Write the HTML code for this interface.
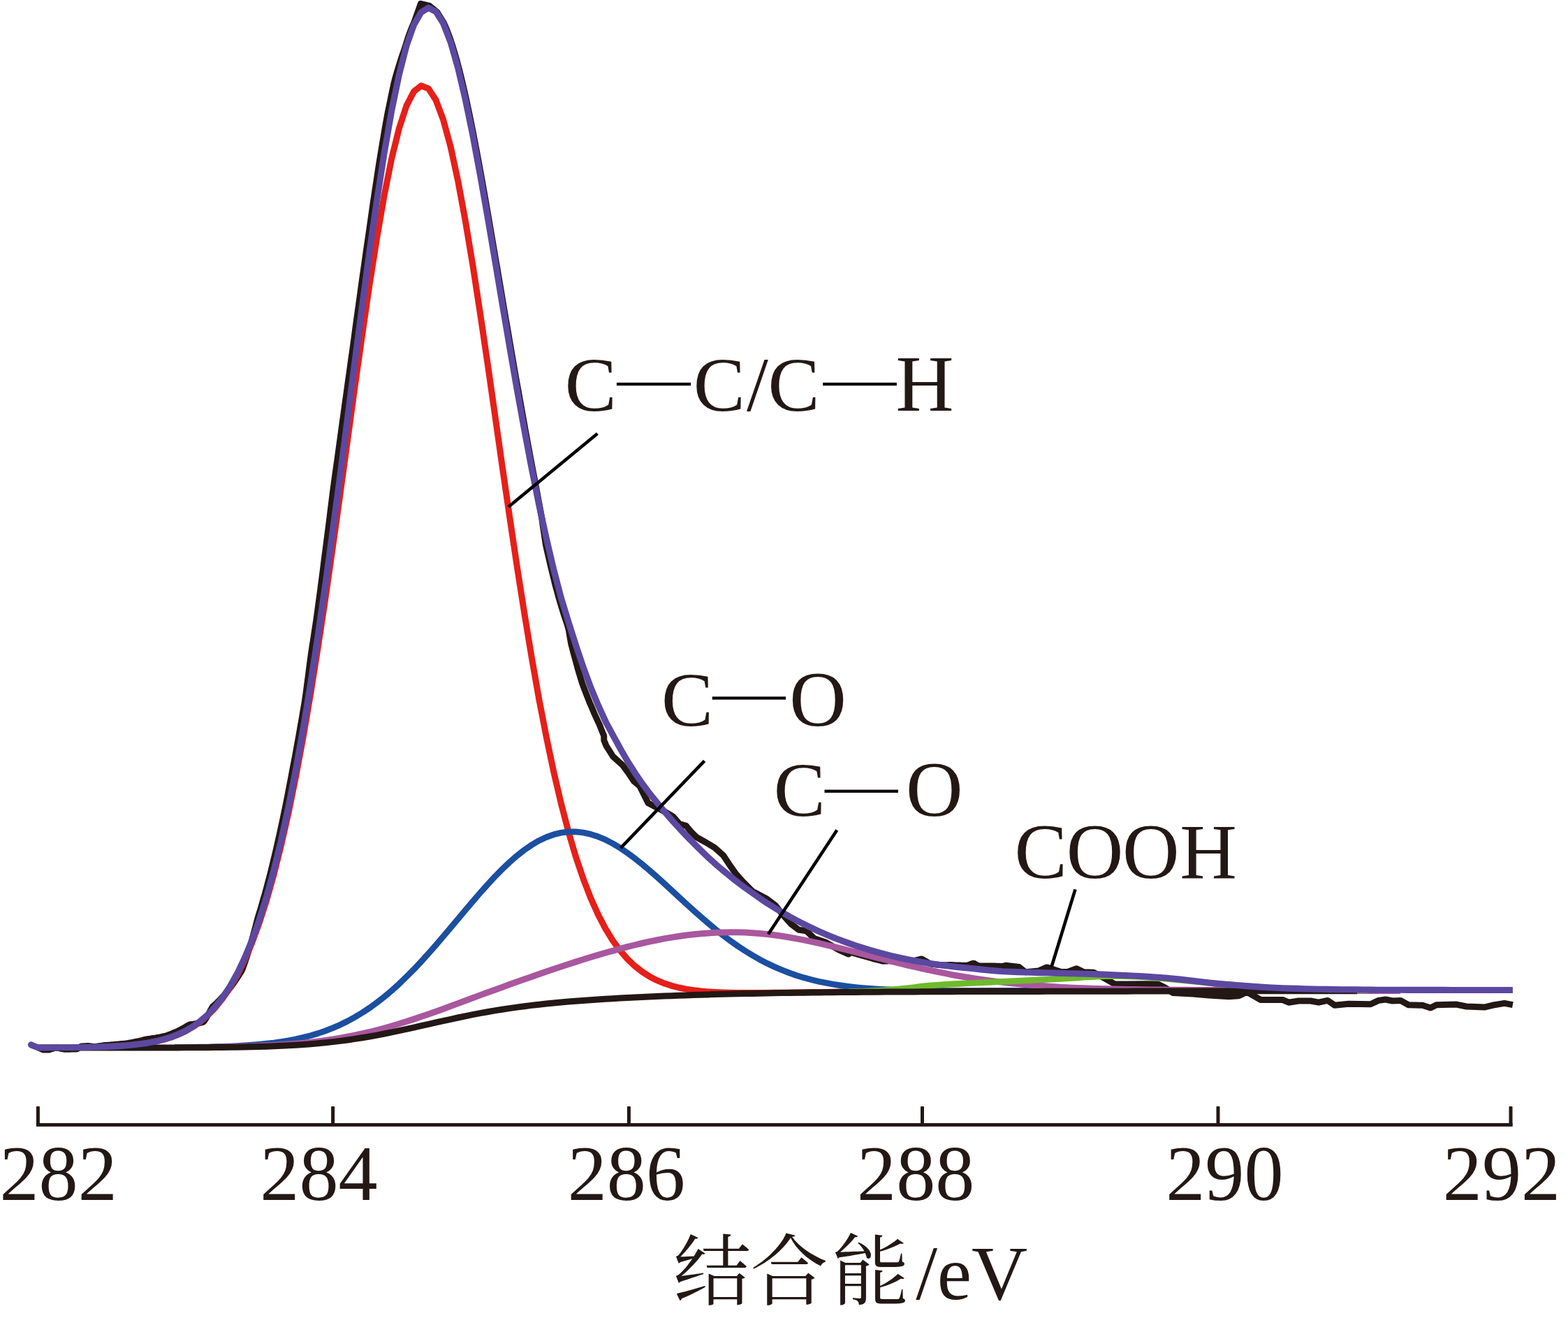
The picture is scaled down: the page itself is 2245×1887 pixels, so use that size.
<!DOCTYPE html>
<html><head><meta charset="utf-8"><title>XPS C1s</title>
<style>
html,body{margin:0;padding:0;background:#fff;}
body{width:2245px;height:1887px;overflow:hidden;font-family:"Liberation Serif",serif;}
svg{display:block;}
text{font-family:"Liberation Serif",serif;fill:#231815;}
</style></head><body>
<svg width="2245" height="1887" viewBox="0 0 2245 1887">
<rect width="2245" height="1887" fill="#fff"/>
<path d="M54.4,1499.9 L56.4,1500.6 L58.4,1501.5 L60.4,1502.4 L62.4,1503.1 L64.4,1503.1 L66.4,1503.1 L68.4,1503.1 L70.4,1502.9 L72.4,1502.3 L74.4,1501.6 L76.4,1501.0 L78.4,1500.3 L80.4,1499.9 L82.4,1500.3 L84.4,1500.7 L86.4,1501.1 L88.4,1501.5 L90.4,1501.9 L92.4,1502.2 L94.4,1502.2 L96.4,1502.2 L98.4,1502.2 L100.4,1502.2 L102.4,1502.1 L104.4,1502.1 L106.4,1502.1 L108.4,1502.1 L110.4,1501.8 L112.4,1500.4 L114.4,1499.1 L116.4,1498.0 L118.4,1497.9 L120.4,1497.8 L122.4,1497.7 L124.4,1497.6 L126.4,1497.5 L128.4,1497.8 L130.4,1498.0 L132.4,1498.3 L134.4,1498.5 L136.4,1498.4 L138.4,1498.2 L140.4,1497.9 L142.4,1497.6 L144.4,1497.4 L146.3,1497.1 L148.3,1496.8 L150.3,1496.6 L152.3,1496.4 L154.3,1496.3 L156.3,1496.2 L158.3,1496.0 L160.3,1495.8 L162.3,1495.7 L164.3,1495.5 L166.3,1495.3 L168.2,1495.2 L170.2,1495.0 L172.2,1494.8 L174.2,1494.6 L176.2,1494.4 L178.2,1494.2 L180.2,1494.0 L182.1,1493.7 L184.1,1493.4 L186.1,1493.0 L188.1,1492.7 L190.0,1492.3 L192.0,1491.9 L193.9,1491.5 L195.9,1491.1 L197.9,1490.7 L199.8,1490.3 L201.8,1489.8 L203.7,1489.4 L205.6,1488.9 L207.6,1488.4 L209.5,1487.9 L211.5,1487.6 L213.5,1487.4 L215.4,1487.1 L217.4,1486.8 L219.4,1486.5 L221.4,1486.2 L223.3,1485.9 L225.3,1485.5 L227.3,1485.2 L229.3,1484.8 L231.3,1484.4 L233.2,1483.9 L235.2,1483.5 L237.2,1483.0 L239.2,1482.5 L241.1,1481.8 L243.1,1481.1 L245.0,1480.3 L246.9,1479.5 L248.8,1478.7 L250.8,1477.9 L252.7,1477.1 L254.6,1476.2 L256.5,1475.2 L258.4,1474.3 L260.3,1473.3 L262.2,1472.3 L264.1,1471.2 L266.0,1470.1 L267.9,1468.9 L269.8,1467.7 L271.9,1466.7 L274.5,1466.5 L277.1,1466.2 L279.7,1465.8 L282.4,1465.4 L285.1,1464.8 L287.9,1464.2 L290.7,1463.5 L292.6,1461.7 L294.1,1459.3 L295.6,1456.9 L297.1,1454.4 L298.5,1451.9 L299.9,1449.3 L301.3,1446.7 L302.7,1444.0 L304.2,1441.5 L306.5,1439.5 L308.7,1437.4 L311.0,1435.2 L313.3,1432.9 L315.6,1430.6 L317.9,1428.1 L320.2,1425.6 L322.5,1422.9 L324.8,1420.1 L327.1,1417.3 L329.5,1414.3 L331.8,1411.2 L334.1,1408.0 L336.5,1404.6 L338.8,1401.2 L341.2,1397.6 L343.5,1394.0 L345.9,1390.2 L347.7,1386.0 L349.3,1381.5 L350.9,1377.0 L352.4,1372.3 L354.0,1367.6 L355.6,1362.7 L357.1,1357.6 L358.7,1352.5 L360.2,1347.2 L361.8,1341.8 L363.3,1336.2 L364.8,1330.6 L366.4,1324.7 L367.9,1318.7 L369.5,1312.6 L371.5,1306.5 L373.4,1300.2 L375.3,1293.7 L377.2,1287.1 L379.2,1280.3 L381.1,1273.3 L383.0,1266.1 L384.9,1258.8 L386.9,1251.4 L388.8,1243.7 L390.7,1235.9 L392.6,1227.8 L394.6,1219.6 L396.5,1211.3 L398.4,1202.7 L400.4,1194.0 L402.3,1185.0 L404.3,1175.9 L406.2,1166.6 L408.2,1157.1 L410.1,1147.5 L412.1,1137.6 L414.0,1127.5 L416.0,1117.3 L417.8,1107.7 L419.8,1097.1 L421.9,1086.3 L423.9,1075.3 L425.9,1064.1 L428.0,1052.7 L430.0,1041.1 L432.1,1029.4 L434.1,1017.4 L436.2,1005.3 L438.0,993.0 L439.6,980.6 L441.3,967.9 L442.9,955.1 L444.6,942.1 L446.5,929.0 L448.6,915.7 L450.6,902.2 L452.7,888.6 L454.6,874.8 L456.5,860.9 L458.4,846.9 L460.2,832.7 L462.1,818.4 L463.9,803.9 L465.8,789.4 L467.7,774.7 L469.6,759.9 L471.5,745.0 L473.3,730.1 L475.2,715.0 L477.1,699.9 L479.2,684.7 L481.3,669.4 L483.5,654.1 L485.6,638.7 L487.7,623.3 L489.8,607.9 L492.0,592.4 L494.1,576.9 L496.3,561.5 L498.4,546.0 L500.6,530.6 L502.7,515.2 L504.9,499.8 L507.0,484.5 L509.0,469.2 L511.1,454.0 L513.2,438.9 L515.3,423.9 L517.3,409.0 L519.4,394.2 L521.5,379.6 L523.5,365.0 L525.6,350.6 L527.7,336.4 L529.7,322.4 L531.7,308.5 L533.6,294.8 L535.6,281.4 L537.6,268.1 L539.6,255.1 L541.5,242.3 L543.5,229.8 L545.5,217.5 L547.5,205.5 L549.5,193.8 L551.4,182.3 L553.4,171.2 L555.4,160.4 L557.6,149.9 L559.7,139.7 L561.8,129.8 L563.8,120.3 L566.1,111.2 L568.7,102.4 L571.2,94.0 L573.7,86.0 L576.3,78.3 L578.9,71.1 L581.0,64.2 L583.0,57.7 L585.0,51.7 L587.1,46.0 L589.1,40.8 L591.1,36.0 L593.1,31.6 L602.4,5.3 L615.0,8.4 L625.5,16.9 L635.4,32.9 L637.4,37.3 L639.4,42.0 L641.4,47.1 L643.5,52.6 L645.5,58.3 L647.5,64.5 L649.5,71.0 L651.5,77.7 L653.6,84.9 L655.6,92.3 L657.6,100.0 L659.6,108.0 L661.6,116.3 L663.6,124.8 L665.6,133.6 L667.6,142.6 L669.6,151.9 L671.6,161.4 L673.6,171.2 L675.6,181.1 L677.6,191.2 L679.6,201.5 L681.6,212.0 L683.6,222.6 L685.6,233.4 L687.6,244.3 L689.6,255.4 L691.6,266.6 L693.6,277.9 L695.6,289.3 L697.6,300.8 L699.6,312.3 L701.6,324.0 L703.6,335.7 L705.6,347.4 L707.6,359.2 L709.6,371.1 L711.7,382.9 L713.7,394.8 L715.7,406.6 L717.7,418.5 L719.7,430.4 L721.7,442.2 L723.7,454.1 L725.8,465.9 L727.8,477.6 L729.8,489.4 L731.8,501.0 L733.8,512.6 L735.8,524.2 L737.8,535.7 L739.8,547.1 L741.9,558.4 L743.9,569.6 L745.9,580.8 L747.9,591.9 L749.9,602.8 L751.8,613.7 L753.8,624.4 L755.7,635.1 L757.7,645.6 L759.6,656.0 L761.6,666.4 L763.5,676.5 L765.5,686.6 L767.4,696.5 L769.2,706.4 L771.0,716.0 L772.8,725.6 L774.5,735.0 L776.1,744.3 L777.4,753.5 L778.8,762.5 L780.1,771.4 L781.5,780.2 L783.4,788.8 L785.4,797.3 L787.3,805.7 L789.3,813.9 L791.2,822.0 L793.2,829.9 L795.1,837.8 L797.2,845.4 L799.3,853.0 L801.4,860.4 L803.6,867.7 L805.8,874.8 L808.0,881.8 L810.3,888.7 L812.5,895.4 L814.3,902.1 L815.4,908.6 L816.5,915.0 L817.6,921.3 L819.2,927.5 L820.8,933.6 L822.4,939.5 L824.0,945.4 L825.6,951.1 L827.1,956.8 L828.7,962.3 L830.4,967.8 L832.0,973.1 L833.6,978.3 L835.5,983.4 L837.4,988.5 L839.3,993.4 L841.2,998.2 L843.1,1003.0 L845.0,1007.7 L847.0,1012.2 L848.9,1016.7 L850.8,1021.2 L852.7,1025.5 L854.7,1029.8 L856.6,1033.9 L858.5,1038.0 L860.1,1042.1 L861.6,1046.0 L863.2,1049.8 L864.7,1053.5 L864.8,1060.0 L868.2,1068.2 L877.7,1083.1 L891.3,1095.4 L899.4,1106.2 L907.6,1118.5 L915.8,1125.3 L922.6,1138.9 L928.0,1149.8 L936.2,1153.9 L945.0,1158.5 L955.0,1164.0 L963.4,1168.8 L972.9,1179.7 L982.4,1182.4 L989.2,1190.6 L997.4,1198.7 L1009.6,1205.5 L1023.2,1213.7 L1035.5,1224.6 L1043.6,1236.8 L1053.1,1250.4 L1064.0,1262.7 L1077.6,1276.3 L1098.0,1287.1 L1110.0,1296.0 L1121.0,1310.0 L1132.9,1323.1 L1143.8,1331.3 L1154.7,1332.7 L1165.6,1343.5 L1181.9,1349.0 L1201.0,1359.9 L1215.0,1366.0 L1218.4,1363.4 L1220.4,1364.0 L1222.4,1364.6 L1224.4,1365.2 L1226.4,1365.8 L1228.4,1366.4 L1230.4,1366.9 L1232.4,1367.5 L1234.4,1368.1 L1236.4,1368.6 L1238.4,1369.1 L1240.4,1369.7 L1242.4,1370.3 L1244.4,1370.9 L1246.4,1371.4 L1248.4,1372.0 L1250.4,1372.6 L1252.4,1373.1 L1254.4,1373.7 L1256.4,1374.2 L1258.4,1374.7 L1260.4,1375.2 L1262.4,1375.8 L1264.4,1376.2 L1266.4,1376.1 L1268.4,1376.0 L1270.4,1375.9 L1272.4,1375.8 L1274.4,1375.7 L1276.4,1375.6 L1278.4,1375.5 L1280.4,1375.3 L1282.4,1375.2 L1284.4,1375.0 L1286.4,1374.9 L1288.4,1374.7 L1290.4,1374.5 L1292.4,1374.3 L1294.4,1374.4 L1296.4,1374.7 L1298.4,1374.9 L1300.4,1375.1 L1302.4,1375.3 L1304.4,1375.5 L1306.4,1375.7 L1308.4,1375.7 L1310.4,1375.2 L1312.4,1374.7 L1314.4,1374.2 L1316.4,1373.6 L1318.4,1373.1 L1320.4,1373.3 L1322.4,1374.5 L1324.4,1375.7 L1326.4,1376.8 L1328.4,1377.9 L1330.4,1379.1 L1332.4,1380.0 L1334.4,1380.3 L1336.4,1380.5 L1338.4,1380.7 L1340.4,1381.0 L1342.4,1381.2 L1344.4,1381.4 L1346.4,1381.6 L1348.4,1381.8 L1350.4,1381.8 L1352.4,1381.8 L1354.4,1381.7 L1356.4,1381.7 L1358.4,1381.6 L1360.4,1381.5 L1362.4,1381.6 L1364.4,1381.7 L1366.4,1381.8 L1368.4,1381.9 L1370.4,1382.0 L1372.4,1382.0 L1374.4,1382.1 L1376.4,1382.2 L1378.4,1382.2 L1380.4,1382.3 L1382.4,1382.2 L1384.4,1382.1 L1386.4,1381.9 L1388.4,1381.0 L1390.4,1380.2 L1392.4,1379.4 L1394.4,1379.2 L1396.4,1380.3 L1398.4,1381.5 L1400.4,1382.7 L1402.4,1383.1 L1404.4,1383.1 L1406.4,1383.1 L1408.4,1383.1 L1410.4,1383.1 L1412.4,1383.1 L1414.3,1383.0 L1416.3,1383.0 L1418.3,1383.0 L1420.3,1383.0 L1422.3,1383.1 L1424.3,1383.1 L1426.3,1383.2 L1428.3,1383.3 L1430.3,1383.3 L1432.3,1383.4 L1434.3,1383.4 L1436.3,1383.2 L1440.0,1382.3 L1459.0,1384.5 L1468.2,1391.8 L1487.3,1389.9 L1498.7,1384.9 L1518.5,1391.4 L1528.4,1391.4 L1541.4,1386.8 L1552.0,1391.8 L1565.8,1392.2 L1575.0,1397.0 L1596.0,1408.9 L1613.0,1409.0 L1640.0,1408.8 L1658.0,1409.0 L1668.0,1414.0 L1679.3,1421.5 L1707.9,1423.0 L1730.8,1425.0 L1759.4,1426.7 L1773.6,1425.8 L1785.1,1420.1 L1805.1,1431.5 L1836.5,1431.5 L1845.1,1435.2 L1859.4,1433.0 L1876.6,1433.0 L1888.0,1435.2 L1900.9,1432.4 L1910.9,1439.3 L1930.9,1437.3 L1962.3,1437.8 L1973.8,1432.4 L1983.8,1431.0 L1993.8,1433.0 L2005.2,1432.4 L2016.6,1438.7 L2036.7,1439.3 L2048.1,1443.0 L2056.7,1438.7 L2085.3,1438.1 L2099.5,1441.0 L2125.3,1442.1 L2136.7,1439.3 L2153.9,1436.4 L2165.9,1438.7" fill="none" stroke="#231815" stroke-width="9.0" stroke-linejoin="round" stroke-linecap="butt"/>
<path d="M150.0,1498.7 L160.3,1498.2 L170.9,1497.6 L181.4,1496.9 L191.9,1495.9 L202.5,1494.6 L213.0,1493.0 L223.6,1491.0 L234.1,1488.4 L244.6,1485.2 L255.2,1481.2 L265.7,1476.3 L276.3,1470.2 L286.8,1462.8 L297.3,1453.8 L307.9,1443.0 L318.4,1430.0 L329.0,1414.6 L339.5,1396.4 L350.0,1375.1 L360.6,1350.3 L371.1,1321.6 L381.7,1288.8 L392.2,1251.5 L402.7,1209.5 L413.3,1162.6 L423.8,1110.6 L434.4,1053.7 L444.9,992.1 L455.4,925.9 L466.0,855.9 L476.5,782.6 L487.1,707.0 L497.6,630.2 L508.1,553.5 L518.7,478.5 L529.2,406.6 L539.8,339.6 L550.3,279.1 L560.8,226.7 L571.4,183.8 L581.9,151.6 L592.5,131.1 L603.0,122.7 L613.5,126.9 L624.1,143.3 L634.6,171.4 L645.2,210.3 L655.7,258.9 L666.2,315.6 L676.8,379.0 L687.3,447.3 L697.9,519.0 L708.4,592.4 L718.9,666.1 L729.5,738.8 L740.0,809.4 L750.6,876.9 L761.1,940.6 L771.6,1000.1 L782.2,1054.9 L792.7,1104.9 L803.3,1150.0 L813.8,1190.4 L824.3,1226.2 L834.9,1257.6 L845.4,1285.0 L856.0,1308.7 L866.5,1328.9 L877.0,1346.1 L887.6,1360.6 L898.1,1372.8 L908.7,1382.9 L919.2,1391.1 L929.7,1397.9 L940.3,1403.4 L950.8,1407.8 L961.4,1411.3 L971.9,1414.0 L982.4,1416.1 L993.0,1417.7 L1003.5,1419.0 L1014.1,1419.9 L1024.6,1420.5 L1035.1,1420.9 L1045.7,1421.2 L1056.2,1421.4 L1066.8,1421.5 L1077.3,1421.5 L1087.8,1421.5 L1098.4,1421.4 L1108.9,1421.3 L1119.5,1421.2 L1130.0,1421.0 L1140.5,1420.9 L1151.1,1420.8 L1161.6,1420.6 L1172.2,1420.5 L1182.7,1420.4 L1193.2,1420.3 L1203.8,1420.1 L1214.3,1420.0 L1224.9,1419.9 L1235.4,1419.8 L1245.9,1419.7 L1256.5,1419.6 L1267.0,1419.5 L1277.6,1419.5 L1288.1,1419.4 L1298.6,1419.3 L1309.2,1419.2 L1319.7,1419.2 L1330.3,1419.1 L1340.8,1419.0 L1351.3,1419.0 L1361.9,1418.9 L1372.4,1418.8 L1383.0,1418.8 L1393.5,1418.7 L1404.0,1418.7 L1414.6,1418.6 L1425.1,1418.6 L1435.7,1418.5 L1446.2,1418.5 L1456.7,1418.4 L1467.3,1418.4 L1477.8,1418.3 L1488.4,1418.3 L1498.9,1418.3 L1509.4,1418.2 L1520.0,1418.2 L1530.5,1418.1 L1541.1,1418.1 L1551.6,1418.1 L1562.1,1418.0 L1572.7,1418.0 L1583.2,1417.9 L1593.8,1417.9 L1604.3,1417.9 L1614.8,1417.9 L1625.4,1417.8 L1635.9,1417.8 L1646.5,1417.8 L1657.0,1417.7 L1667.5,1417.7 L1678.1,1417.7 L1688.6,1417.7 L1699.2,1417.7 L1700.0,1417.7" fill="none" stroke="#e61f19" stroke-width="9.0" stroke-linejoin="round" stroke-linecap="butt"/>
<path d="M250.0,1499.7 L255.2,1499.6 L265.7,1499.5 L276.3,1499.4 L286.8,1499.2 L297.3,1499.0 L307.9,1498.7 L318.4,1498.4 L329.0,1498.0 L339.5,1497.5 L350.0,1496.9 L360.6,1496.2 L371.1,1495.3 L381.7,1494.2 L392.2,1493.0 L402.7,1491.5 L413.3,1489.8 L423.8,1487.7 L434.4,1485.3 L444.9,1482.6 L455.4,1479.5 L466.0,1475.9 L476.5,1471.8 L487.1,1467.2 L497.6,1462.0 L508.1,1456.3 L518.7,1449.9 L529.2,1443.0 L539.8,1435.3 L550.3,1427.1 L560.8,1418.2 L571.4,1408.7 L581.9,1398.5 L592.5,1387.9 L603.0,1376.7 L613.5,1365.1 L624.1,1353.1 L634.6,1340.8 L645.2,1328.3 L655.7,1315.7 L666.2,1303.2 L676.8,1290.7 L687.3,1278.5 L697.9,1266.7 L708.4,1255.3 L718.9,1244.6 L729.5,1234.5 L740.0,1225.3 L750.6,1217.0 L761.1,1209.8 L771.6,1203.6 L782.2,1198.6 L792.7,1194.8 L803.3,1192.2 L813.8,1190.9 L824.3,1190.9 L834.9,1192.0 L845.4,1194.3 L856.0,1197.7 L866.5,1202.1 L877.0,1207.5 L887.6,1213.8 L898.1,1221.0 L908.7,1228.8 L919.2,1237.2 L929.7,1246.0 L940.3,1255.3 L950.8,1264.8 L961.4,1274.5 L971.9,1284.2 L982.4,1293.9 L993.0,1303.5 L1003.5,1312.8 L1014.1,1321.9 L1024.6,1330.7 L1035.1,1339.0 L1045.7,1346.9 L1056.2,1354.4 L1066.8,1361.4 L1077.3,1367.8 L1087.8,1373.8 L1098.4,1379.3 L1108.9,1384.3 L1119.5,1388.8 L1130.0,1392.9 L1140.5,1396.6 L1151.1,1399.8 L1161.6,1402.6 L1172.2,1405.2 L1182.7,1407.3 L1193.2,1409.2 L1203.8,1410.9 L1214.3,1412.3 L1224.9,1413.5 L1235.4,1414.5 L1245.9,1415.3 L1256.5,1416.0 L1267.0,1416.6 L1277.6,1417.0 L1288.1,1417.4 L1298.6,1417.7 L1309.2,1418.0 L1319.7,1418.1 L1330.3,1418.3 L1340.8,1418.4 L1351.3,1418.5 L1361.9,1418.5 L1372.4,1418.5 L1383.0,1418.5 L1393.5,1418.5 L1404.0,1418.5 L1414.6,1418.5 L1425.1,1418.5 L1435.7,1418.5 L1446.2,1418.4 L1456.7,1418.4 L1467.3,1418.4 L1477.8,1418.3 L1488.4,1418.3 L1498.9,1418.3 L1509.4,1418.2 L1520.0,1418.2 L1530.5,1418.1 L1541.1,1418.1 L1551.6,1418.1 L1562.1,1418.0 L1572.7,1418.0 L1583.2,1417.9 L1593.8,1417.9 L1604.3,1417.9 L1614.8,1417.9 L1625.4,1417.8 L1635.9,1417.8 L1646.5,1417.8 L1657.0,1417.7 L1667.5,1417.7 L1678.1,1417.7 L1688.6,1417.7 L1699.2,1417.7 L1709.7,1417.6 L1720.2,1417.6 L1730.8,1417.6 L1741.3,1417.6 L1751.9,1417.6 L1762.4,1417.6 L1772.9,1417.6 L1783.5,1417.6 L1794.0,1417.5 L1800.0,1417.5" fill="none" stroke="#1b4fa0" stroke-width="8.7" stroke-linejoin="round" stroke-linecap="butt"/>
<path d="M300.0,1499.3 L307.9,1499.2 L318.4,1499.0 L329.0,1498.8 L339.5,1498.6 L350.0,1498.3 L360.6,1497.9 L371.1,1497.5 L381.7,1497.0 L392.2,1496.5 L402.7,1495.8 L413.3,1495.1 L423.8,1494.2 L434.4,1493.3 L444.9,1492.2 L455.4,1490.9 L466.0,1489.5 L476.5,1488.0 L487.1,1486.2 L497.6,1484.3 L508.1,1482.2 L518.7,1479.9 L529.2,1477.5 L539.8,1474.8 L550.3,1472.0 L560.8,1469.0 L571.4,1465.8 L581.9,1462.5 L592.5,1459.1 L603.0,1455.5 L613.5,1451.9 L624.1,1448.2 L634.6,1444.4 L645.2,1440.5 L655.7,1436.6 L666.2,1432.7 L676.8,1428.8 L687.3,1424.9 L697.9,1421.1 L708.4,1417.2 L718.9,1413.4 L729.5,1409.6 L740.0,1405.8 L750.6,1402.1 L761.1,1398.4 L771.6,1394.7 L782.2,1391.1 L792.7,1387.5 L803.3,1384.0 L813.8,1380.5 L824.3,1377.1 L834.9,1373.8 L845.4,1370.5 L856.0,1367.4 L866.5,1364.3 L877.0,1361.3 L887.6,1358.4 L898.1,1355.6 L908.7,1353.0 L919.2,1350.5 L929.7,1348.1 L940.3,1346.0 L950.8,1343.9 L961.4,1342.1 L971.9,1340.5 L982.4,1339.0 L993.0,1337.8 L1003.5,1336.7 L1014.1,1335.9 L1024.6,1335.3 L1035.1,1334.9 L1045.7,1334.7 L1056.2,1334.8 L1066.8,1335.1 L1077.3,1335.7 L1087.8,1336.5 L1098.4,1337.6 L1108.9,1338.8 L1119.5,1340.3 L1130.0,1342.0 L1140.5,1343.9 L1151.1,1345.9 L1161.6,1348.1 L1172.2,1350.4 L1182.7,1352.8 L1193.2,1355.3 L1203.8,1357.9 L1214.3,1360.5 L1224.9,1363.2 L1235.4,1365.9 L1245.9,1368.6 L1256.5,1371.3 L1267.0,1374.0 L1277.6,1376.6 L1288.1,1379.2 L1298.6,1381.8 L1309.2,1384.2 L1319.7,1386.6 L1330.3,1388.9 L1340.8,1391.1 L1351.3,1393.2 L1361.9,1395.3 L1372.4,1397.2 L1383.0,1399.0 L1393.5,1400.7 L1404.0,1402.2 L1414.6,1403.7 L1425.1,1405.1 L1435.7,1406.4 L1446.2,1407.5 L1456.7,1408.6 L1467.3,1409.6 L1477.8,1410.5 L1488.4,1411.3 L1498.9,1412.1 L1509.4,1412.7 L1520.0,1413.4 L1530.5,1413.9 L1541.1,1414.4 L1551.6,1414.8 L1562.1,1415.2 L1572.7,1415.5 L1583.2,1415.8 L1593.8,1416.1 L1604.3,1416.3 L1614.8,1416.5 L1625.4,1416.6 L1635.9,1416.8 L1646.5,1416.9 L1657.0,1417.0 L1667.5,1417.1 L1678.1,1417.2 L1688.6,1417.2 L1699.2,1417.3 L1709.7,1417.4 L1720.2,1417.5 L1730.8,1417.5 L1741.3,1417.6 L1751.9,1417.7 L1762.4,1417.8 L1772.9,1417.8 L1783.5,1417.9 L1794.0,1417.9 L1804.6,1418.0 L1815.1,1418.1 L1825.6,1418.1 L1836.2,1418.2 L1846.7,1418.2 L1857.3,1418.3 L1867.8,1418.3 L1878.3,1418.4 L1888.9,1418.4 L1899.4,1418.5 L1910.0,1418.5 L1920.5,1418.5 L1931.0,1418.5 L1941.6,1418.5 L1952.1,1418.5 L1962.7,1418.5 L1973.2,1418.5 L1983.7,1418.5 L1994.3,1418.5 L2004.8,1418.5 L2005.0,1418.5" fill="none" stroke="#a9579f" stroke-width="9.0" stroke-linejoin="round" stroke-linecap="butt"/>
<path d="M1215.0,1419.9 L1224.9,1419.7 L1235.4,1419.4 L1245.9,1418.9 L1256.5,1418.3 L1267.0,1417.6 L1277.6,1416.8 L1288.1,1415.9 L1298.6,1414.9 L1309.2,1413.7 L1319.7,1412.2 L1330.3,1411.1 L1340.8,1410.3 L1351.3,1409.6 L1361.9,1409.0 L1372.4,1408.5 L1383.0,1407.9 L1393.5,1407.4 L1404.0,1406.9 L1414.6,1406.3 L1425.1,1405.8 L1435.7,1405.3 L1446.2,1404.8 L1456.7,1404.3 L1467.3,1403.8 L1477.8,1403.3 L1488.4,1402.8 L1498.9,1402.3 L1509.4,1401.8 L1520.0,1401.3 L1530.5,1400.7 L1541.1,1400.0 L1551.6,1399.2 L1562.1,1398.5 L1572.7,1398.0 L1583.2,1397.6 L1593.8,1397.5 L1604.3,1397.6 L1614.8,1397.9 L1625.4,1398.2 L1635.9,1398.6 L1646.5,1399.3 L1657.0,1400.2 L1667.5,1401.1 L1678.1,1402.0 L1688.6,1403.0 L1699.2,1404.1 L1709.7,1405.1 L1720.2,1406.2 L1730.8,1407.3 L1741.3,1408.3 L1751.9,1409.2 L1762.4,1410.1 L1772.9,1411.0 L1783.5,1411.8 L1794.0,1412.6 L1804.6,1413.4 L1815.1,1414.1 L1825.6,1414.8 L1836.2,1415.4 L1846.7,1415.9 L1857.3,1416.3 L1867.8,1416.6 L1878.3,1416.8 L1888.9,1417.1 L1899.4,1417.2 L1910.0,1417.3 L1920.5,1417.4 L1931.0,1417.4 L1941.6,1417.5 L1952.1,1417.5 L1960.0,1417.5" fill="none" stroke="#6fba2c" stroke-width="8.8" stroke-linejoin="round" stroke-linecap="butt"/>
<path d="M56.0,1500.0 L65.5,1500.0 L76.0,1500.0 L86.5,1500.0 L97.1,1500.0 L107.6,1500.0 L118.2,1500.0 L128.7,1500.0 L139.2,1500.0 L149.8,1500.0 L160.3,1500.0 L170.9,1500.0 L181.4,1500.0 L191.9,1500.0 L202.5,1500.0 L213.0,1500.0 L223.6,1499.9 L234.1,1499.9 L244.6,1499.9 L255.2,1499.9 L265.7,1499.8 L276.3,1499.8 L286.8,1499.7 L297.3,1499.7 L307.9,1499.6 L318.4,1499.5 L329.0,1499.3 L339.5,1499.2 L350.0,1499.0 L360.6,1498.8 L371.1,1498.5 L381.7,1498.2 L392.2,1497.8 L402.7,1497.3 L413.3,1496.8 L423.8,1496.2 L434.4,1495.5 L444.9,1494.7 L455.4,1493.8 L466.0,1492.8 L476.5,1491.6 L487.1,1490.4 L497.6,1489.0 L508.1,1487.4 L518.7,1485.8 L529.2,1484.0 L539.8,1482.1 L550.3,1480.0 L560.8,1477.9 L571.4,1475.7 L581.9,1473.4 L592.5,1471.1 L603.0,1468.7 L613.5,1466.3 L624.1,1463.9 L634.6,1461.6 L645.2,1459.3 L655.7,1457.0 L666.2,1454.8 L676.8,1452.7 L687.3,1450.7 L697.9,1448.8 L708.4,1446.9 L718.9,1445.2 L729.5,1443.6 L740.0,1442.1 L750.6,1440.7 L761.1,1439.4 L771.6,1438.2 L782.2,1437.1 L792.7,1436.0 L803.3,1435.0 L813.8,1434.1 L824.3,1433.2 L834.9,1432.4 L845.4,1431.7 L856.0,1431.0 L866.5,1430.3 L877.0,1429.7 L887.6,1429.1 L898.1,1428.5 L908.7,1428.0 L919.2,1427.5 L929.7,1427.0 L940.3,1426.5 L950.8,1426.1 L961.4,1425.7 L971.9,1425.3 L982.4,1424.9 L993.0,1424.5 L1003.5,1424.2 L1014.1,1423.9 L1024.6,1423.6 L1035.1,1423.3 L1045.7,1423.1 L1056.2,1422.8 L1066.8,1422.6 L1077.3,1422.4 L1087.8,1422.2 L1098.4,1422.0 L1108.9,1421.8 L1119.5,1421.6 L1130.0,1421.5 L1140.5,1421.3 L1151.1,1421.2 L1161.6,1421.0 L1172.2,1420.9 L1182.7,1420.8 L1193.2,1420.7 L1203.8,1420.6 L1214.3,1420.5 L1224.9,1420.4 L1235.4,1420.3 L1245.9,1420.3 L1256.5,1420.2 L1267.0,1420.1 L1277.6,1420.1 L1288.1,1420.0 L1298.6,1419.9 L1309.2,1419.9 L1319.7,1419.8 L1330.3,1419.8 L1340.8,1419.8 L1351.3,1419.7 L1361.9,1419.7 L1372.4,1419.6 L1383.0,1419.6 L1393.5,1419.6 L1404.0,1419.6 L1414.6,1419.5 L1425.1,1419.5 L1435.7,1419.5 L1446.2,1419.5 L1456.7,1419.4 L1467.3,1419.4 L1477.8,1419.4 L1488.4,1419.4 L1498.9,1419.3 L1509.4,1419.3 L1520.0,1419.3 L1530.5,1419.3 L1541.1,1419.3 L1551.6,1419.3 L1562.1,1419.2 L1572.7,1419.2 L1583.2,1419.2 L1593.8,1419.2 L1604.3,1419.2 L1614.8,1419.2 L1625.4,1419.1 L1635.9,1419.1 L1646.5,1419.1 L1657.0,1419.0 L1667.5,1419.0 L1678.1,1419.0 L1688.6,1419.0 L1699.2,1419.0 L1709.7,1418.9 L1720.2,1418.9 L1730.8,1418.9 L1741.3,1418.9 L1751.9,1418.9 L1762.4,1418.9 L1772.9,1418.9 L1783.5,1418.9 L1794.0,1418.8 L1804.6,1418.8 L1815.1,1418.8 L1825.6,1418.8 L1836.2,1418.8 L1846.7,1418.8 L1857.3,1418.8 L1867.8,1418.8 L1878.3,1418.8 L1888.9,1418.8 L1899.4,1418.8 L1910.0,1418.8 L1920.5,1418.8 L1931.0,1418.8 L1941.6,1418.8 L1943.0,1418.8" fill="none" stroke="#231815" stroke-width="9.0" stroke-linejoin="round"/>
<path d="M44.4,1495.9 L54.9,1499.9 L65.5,1499.9 L76.0,1499.8 L86.5,1499.8 L97.1,1499.7 L107.6,1499.6 L118.2,1499.4 L128.7,1499.2 L139.2,1499.0 L149.8,1498.6 L160.3,1498.2 L170.9,1497.6 L181.4,1496.8 L191.9,1495.8 L202.5,1494.5 L213.0,1492.9 L223.6,1490.8 L234.1,1488.2 L244.6,1484.9 L255.2,1480.8 L265.7,1475.8 L276.3,1469.6 L286.8,1462.0 L297.3,1452.8 L307.9,1441.7 L318.4,1428.5 L329.0,1412.7 L339.5,1394.1 L350.0,1372.3 L360.6,1346.8 L371.1,1317.4 L381.7,1283.7 L392.2,1245.4 L402.7,1202.2 L413.3,1153.8 L423.8,1100.2 L434.4,1041.4 L444.9,977.4 L455.4,908.7 L466.0,835.7 L476.5,759.0 L487.1,679.6 L497.6,598.6 L508.1,517.2 L518.7,436.8 L529.2,359.1 L539.8,285.7 L550.3,218.1 L560.8,158.0 L571.4,106.9 L581.9,65.8 L592.5,35.8 L603.0,17.6 L613.5,11.2 L624.1,16.6 L634.6,33.4 L645.2,60.6 L655.7,97.3 L666.2,141.9 L676.8,193.1 L687.3,249.4 L697.9,309.2 L708.4,371.1 L718.9,433.6 L729.5,495.7 L740.0,556.3 L750.6,614.5 L761.1,669.9 L771.6,722.0 L782.2,770.4 L792.7,815.2 L803.4,856.2 L814.8,893.4 L825.7,927.3 L836.1,958.1 L846.5,986.0 L857.1,1011.2 L867.6,1034.1 L878.7,1054.7 L889.2,1073.8 L899.5,1091.5 L909.9,1107.8 L920.4,1123.0 L931.0,1137.2 L941.7,1150.4 L952.3,1163.1 L962.9,1175.2 L973.4,1186.8 L983.9,1197.8 L994.4,1208.5 L1004.8,1218.7 L1015.1,1228.7 L1025.6,1238.1 L1036.1,1247.0 L1046.6,1255.6 L1057.1,1263.8 L1067.6,1271.6 L1078.2,1279.1 L1088.5,1286.4 L1098.9,1293.4 L1109.4,1300.0 L1119.8,1306.3 L1130.3,1312.3 L1140.8,1317.9 L1151.3,1323.3 L1161.8,1328.4 L1172.3,1333.3 L1182.7,1337.9 L1193.2,1342.3 L1203.8,1346.3 L1214.3,1350.1 L1224.9,1353.8 L1235.4,1357.2 L1245.9,1360.3 L1256.5,1363.3 L1267.0,1366.2 L1277.6,1368.8 L1288.1,1371.2 L1298.6,1373.5 L1309.2,1375.5 L1319.7,1377.5 L1330.3,1379.2 L1340.8,1380.8 L1351.3,1382.2 L1361.9,1383.5 L1372.4,1384.7 L1383.0,1385.7 L1393.5,1386.8 L1404.0,1387.9 L1414.5,1389.0 L1425.1,1389.9 L1435.6,1390.7 L1446.1,1391.2 L1456.7,1391.6 L1467.2,1392.0 L1477.8,1392.3 L1488.3,1392.6 L1498.9,1392.8 L1509.4,1393.1 L1520.0,1393.4 L1530.5,1393.7 L1541.1,1393.9 L1551.6,1394.2 L1562.2,1394.5 L1572.8,1394.9 L1583.3,1395.3 L1593.9,1395.7 L1604.5,1396.2 L1615.0,1396.7 L1625.6,1397.3 L1636.2,1397.8 L1646.8,1398.5 L1657.3,1399.2 L1667.9,1400.0 L1678.4,1401.0 L1688.9,1402.1 L1699.4,1403.3 L1709.9,1404.5 L1720.4,1405.8 L1730.9,1407.0 L1741.4,1408.1 L1752.0,1409.0 L1762.5,1409.9 L1773.0,1410.8 L1783.5,1411.6 L1794.0,1412.4 L1804.6,1413.1 L1815.1,1413.7 L1825.6,1414.2 L1836.2,1414.7 L1846.7,1415.1 L1857.3,1415.4 L1867.8,1415.7 L1878.3,1416.0 L1888.9,1416.2 L1899.4,1416.4 L1910.0,1416.6 L1920.5,1416.7 L1931.0,1416.8 L1941.6,1416.9 L1952.1,1417.0 L1962.7,1417.1 L1973.2,1417.2 L1983.7,1417.2 L1994.3,1417.3 L2004.8,1417.3 L2015.4,1417.4 L2025.9,1417.4 L2036.4,1417.4 L2047.0,1417.4 L2057.5,1417.4 L2068.1,1417.4 L2078.6,1417.5 L2089.1,1417.5 L2099.7,1417.5 L2110.2,1417.5 L2120.8,1417.5 L2131.3,1417.5 L2141.8,1417.5 L2152.4,1417.5 L2162.9,1417.5 L2165.9,1417.5" fill="none" stroke="#5b48a0" stroke-width="9.1" stroke-linejoin="round" stroke-linecap="butt"/>
<circle cx="44.4" cy="1495.9" r="4.55" fill="#5b48a0"/>
<line x1="855.4" y1="620.8" x2="727.9" y2="725.8" stroke="#000" stroke-width="4.6"/>
<line x1="1008.6" y1="1089.4" x2="888.6" y2="1214.2" stroke="#000" stroke-width="4.6"/>
<line x1="1198.3" y1="1188.6" x2="1100" y2="1337.6" stroke="#000" stroke-width="4.6"/>
<line x1="1539.5" y1="1273.3" x2="1505.6" y2="1384" stroke="#000" stroke-width="4.6"/>
<rect x="51.9" y="1608.0" width="2113.8" height="4.9" fill="#231815"/>
<rect x="51.9" y="1583.9" width="5" height="26" rx="0.8" fill="#231815"/>
<rect x="474.1" y="1583.9" width="5" height="26" rx="0.8" fill="#231815"/>
<rect x="897.9" y="1583.9" width="5" height="26" rx="0.8" fill="#231815"/>
<rect x="1318.0" y="1583.9" width="5" height="26" rx="0.8" fill="#231815"/>
<rect x="1741.5" y="1583.9" width="5" height="26" rx="0.8" fill="#231815"/>
<rect x="2160.5" y="1583.9" width="5" height="26" rx="0.8" fill="#231815"/>
<text x="-0.5" y="1717.8" font-size="112.2" fill="#231815">282</text>
<text x="372.3" y="1717.8" font-size="112.2" fill="#231815">284</text>
<text x="812.7" y="1717.8" font-size="112.2" fill="#231815">286</text>
<text x="1227.1" y="1717.8" font-size="112.2" fill="#231815">288</text>
<text x="1669.2" y="1717.8" font-size="112.2" fill="#231815">290</text>
<text x="2065.8" y="1717.8" font-size="112.2" fill="#231815">292</text>
<text x="808.8" y="587.9" font-size="111" fill="#231815">C</text>
<rect x="882.9" y="547.80" width="106.2" height="4.3" fill="#0a0505"/>
<text x="992.7" y="587.9" font-size="111" fill="#231815">C</text>
<text x="1068.9" y="587.9" font-size="111" fill="#231815">/</text>
<text x="1099.4" y="587.9" font-size="111" fill="#231815">C</text>
<rect x="1178.1" y="547.80" width="105.8" height="4.3" fill="#0a0505"/>
<text x="1282.6" y="587.9" font-size="115" fill="#231815">H</text>
<text x="946.9" y="1039.4" font-size="111" fill="#231815">C</text>
<rect x="1019.7" y="997.35" width="105.4" height="4.3" fill="#0a0505"/>
<text x="1130.2" y="1039.4" font-size="113" fill="#231815">O</text>
<text x="1107.7" y="1167.9" font-size="111" fill="#231815">C</text>
<rect x="1180.5" y="1130.65" width="105.4" height="4.3" fill="#0a0505"/>
<text x="1297.0" y="1167.9" font-size="113" fill="#231815">O</text>
<text x="1452.5 1526.7 1607.1 1689.2" y="1256.5" font-size="113" fill="#231815">COOH</text>
<text x="964.2 1074.5 1191.0 1311.3 1341.7 1391.0" y="1860" font-size="111" fill="#231815" style="font-family:'Liberation Serif','Noto Serif CJK SC',serif;">结合能/eV</text>
</svg>
</body></html>
